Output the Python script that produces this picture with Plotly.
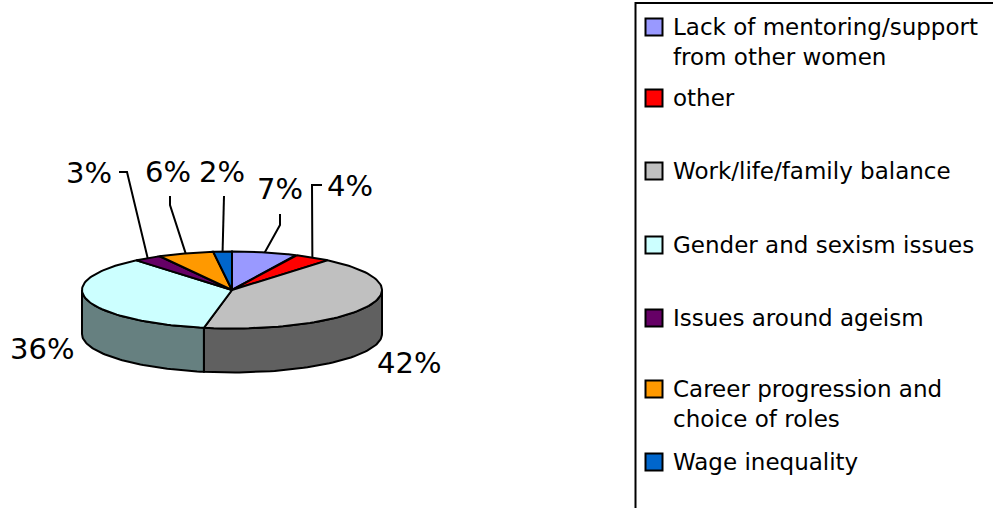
import numpy as np
import plotly.graph_objects as go

# data
categories = ['Lack of mentoring/support<br>from other women', 'other',
              'Work/life/family balance', 'Gender and sexism issues',
              'Issues around ageism', 'Career progression and<br>choice of roles',
              'Wage inequality']
values = [7, 4, 42, 36, 3, 6, 2]
top_colors = ['#9999FF', '#FF0000', '#C0C0C0', '#CCFFFF', '#660066', '#FF9900', '#0066CC']
side_colors = ['#4C4C80', '#800000', '#606060', '#668080', '#330033', '#804C00', '#003366']

# pie geometry (pixels)
cx, cy = 232, 290
rx, ry = 150, 38.5
depth = 44
FONT = 'DejaVu Sans'
LW = 2

# label layout: elbow points of leader lines and label centres
label_pos = [(280, 189), (350, 186), (409, 363), (42, 349), (89, 173), (168, 172), (222, 172)]
leader_elbows = [[(280, 225), (280, 214)], [(312, 185), (322, 185)], [], [],
                 [(127, 172), (119, 172)], [(170, 205), (170, 196)], [(224, 196)]]

# legend layout
legend_rows = [27, 98, 171, 245, 318, 389, 462]
sq_x, txt_x = 654, 671


def pt(theta, dy=0.0):
    t = np.radians(theta)
    return cx + rx * np.sin(t), cy - ry * np.cos(t) + dy


fig = go.Figure()

total = float(sum(values))
bounds = np.concatenate([[0], np.cumsum(values)]) / total * 360

# side walls (front half only)
for i in range(len(values)):
    a, b = max(bounds[i], 90), min(bounds[i + 1], 270)
    if b <= a:
        continue
    th = np.linspace(a, b, 60)
    xs_t, ys_t = pt(th)
    xs_b, ys_b = pt(th[::-1], depth)
    xs = np.concatenate([xs_t, xs_b, xs_t[:1]])
    ys = np.concatenate([ys_t, ys_b, ys_t[:1]])
    fig.add_trace(go.Scatter(x=xs, y=ys, mode='lines', fill='toself',
                             fillcolor=side_colors[i], line=dict(color='black', width=LW),
                             hoverinfo='skip', showlegend=False))

# top wedges
for i in range(len(values)):
    th = np.linspace(bounds[i], bounds[i + 1], 80)
    xa, ya = pt(th)
    xs = np.concatenate([[cx], xa, [cx]])
    ys = np.concatenate([[cy], ya, [cy]])
    fig.add_trace(go.Scatter(x=xs, y=ys, mode='lines', fill='toself',
                             fillcolor=top_colors[i], line=dict(color='black', width=LW),
                             hoverinfo='skip', showlegend=False))

# leader lines and labels
for i, v in enumerate(values):
    if leader_elbows[i]:
        mid = (bounds[i] + bounds[i + 1]) / 2
        x0, y0 = pt(mid)
        lx = [x0] + [p[0] for p in leader_elbows[i]]
        ly = [y0] + [p[1] for p in leader_elbows[i]]
        fig.add_trace(go.Scatter(x=lx, y=ly, mode='lines', line=dict(color='black', width=LW),
                                 hoverinfo='skip', showlegend=False))
    fig.add_annotation(x=label_pos[i][0], y=label_pos[i][1], text=f'{v}%', showarrow=False,
                       xanchor='center', yanchor='middle',
                       font=dict(family=FONT, size=29, color='black'))

# legend
fig.add_trace(go.Scatter(x=[sq_x] * len(values), y=legend_rows, mode='markers',
                         marker=dict(symbol='square', size=17, color=top_colors,
                                     line=dict(color='black', width=2)),
                         hoverinfo='skip', showlegend=False))
for i, name in enumerate(categories):
    nlines = name.count('<br>') + 1
    fig.add_annotation(x=txt_x, y=legend_rows[i] + (nlines - 1) * 15, text=name, showarrow=False,
                       xanchor='left', yanchor='middle', align='left',
                       font=dict(family=FONT, size=23, color='black'))

fig.add_shape(type='rect', x0=635.5, x1=1000, y0=3, y1=520, xref='x', yref='y',
              line=dict(color='black', width=2))

fig.update_xaxes(range=[0, 993], visible=False)
fig.update_yaxes(range=[508, 0], visible=False)
fig.update_layout(width=993, height=508, margin=dict(l=0, r=0, t=0, b=0),
                  plot_bgcolor='white', paper_bgcolor='white')

fig.write_html('out.html', config={'displayModeBar': False},
               post_script="document.body.style.margin='0';")
